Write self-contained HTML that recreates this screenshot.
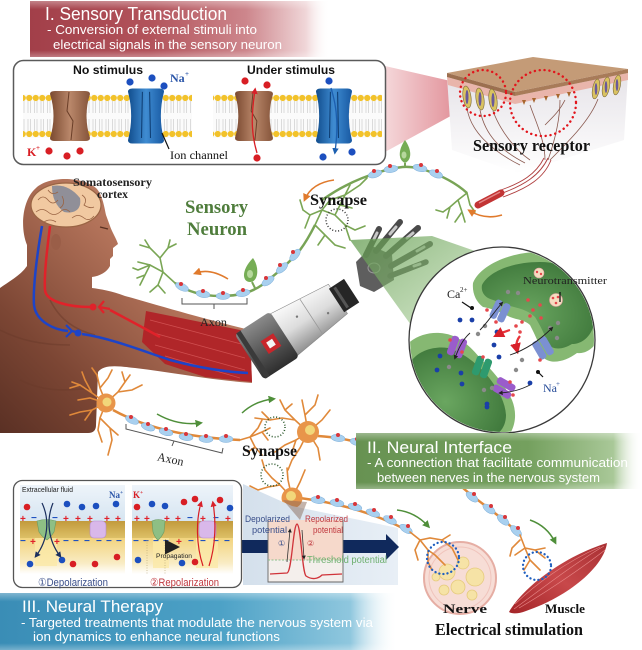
<!DOCTYPE html>
<html><head><meta charset="utf-8"><style>
html,body{margin:0;padding:0;background:#fff;}
svg{display:block;}
</style></head><body>
<svg width="642" height="650" viewBox="0 0 642 650" xmlns="http://www.w3.org/2000/svg">
<defs>
<linearGradient id="gI" x1="0" y1="0" x2="1" y2="0">
<stop offset="0" stop-color="#a23f49"/><stop offset="0.4" stop-color="#b2535b"/><stop offset="0.72" stop-color="#cd868c"/><stop offset="0.92" stop-color="#f0d6d8"/><stop offset="1" stop-color="#ffffff" stop-opacity="0"/>
</linearGradient>
<linearGradient id="gII" x1="0" y1="0" x2="1" y2="0">
<stop offset="0" stop-color="#679252"/><stop offset="0.6" stop-color="#74a05e"/><stop offset="0.9" stop-color="#a9c898"/><stop offset="1" stop-color="#ffffff" stop-opacity="0"/>
</linearGradient>
<linearGradient id="gIII" x1="0" y1="0" x2="1" y2="0">
<stop offset="0" stop-color="#3a8db6"/><stop offset="0.55" stop-color="#4ca1c6"/><stop offset="0.88" stop-color="#8fc7de"/><stop offset="1" stop-color="#ffffff" stop-opacity="0"/>
</linearGradient>
<linearGradient id="vfade" x1="0" y1="0" x2="0" y2="1">
<stop offset="0" stop-color="#fff" stop-opacity="0.35"/><stop offset="0.15" stop-color="#fff" stop-opacity="0"/><stop offset="0.88" stop-color="#fff" stop-opacity="0"/><stop offset="1" stop-color="#fff" stop-opacity="0.3"/>
</linearGradient>
<linearGradient id="cone" x1="0" y1="0" x2="1" y2="0">
<stop offset="0" stop-color="#f3d0d3"/><stop offset="1" stop-color="#dc7c86"/>
</linearGradient>
<linearGradient id="brown" x1="0" y1="0" x2="1" y2="0">
<stop offset="0" stop-color="#7a4930"/><stop offset="0.5" stop-color="#b9876a"/><stop offset="1" stop-color="#85543a"/>
</linearGradient>
<linearGradient id="blue" x1="0" y1="0" x2="1" y2="0">
<stop offset="0" stop-color="#114d8d"/><stop offset="0.5" stop-color="#3f8cd2"/><stop offset="1" stop-color="#1859a2"/>
</linearGradient>
<pattern id="lip" x="0" y="94" width="6.5" height="44" patternUnits="userSpaceOnUse">
<rect width="6.5" height="44" fill="#fbfbfb"/>
<path d="M2 7 V19 M4.5 7 V19 M2 25 V37 M4.5 25 V37" stroke="#c6c6c6" stroke-width="0.6"/>
<circle cx="3.25" cy="4" r="3.1" fill="#f2c22a"/>
<circle cx="3.25" cy="40" r="3.1" fill="#f2c22a"/>
</pattern>
<linearGradient id="skinL" x1="0" y1="0" x2="0" y2="1">
<stop offset="0" stop-color="#e6e3e8"/><stop offset="1" stop-color="#ffffff"/>
</linearGradient>
<linearGradient id="body" x1="1" y1="0" x2="0" y2="1">
<stop offset="0" stop-color="#d39c7e"/><stop offset="0.4" stop-color="#b27259"/><stop offset="0.75" stop-color="#7c4634"/><stop offset="1" stop-color="#5a3024"/>
</linearGradient>
<linearGradient id="silver" x1="0" y1="0" x2="0" y2="1">
<stop offset="0" stop-color="#fafafa"/><stop offset="0.5" stop-color="#dcdcdc"/><stop offset="1" stop-color="#8e8e8e"/>
</linearGradient>
<linearGradient id="cuff" x1="0" y1="0" x2="0" y2="1">
<stop offset="0" stop-color="#8a8a8a"/><stop offset="0.5" stop-color="#5a5a5a"/><stop offset="1" stop-color="#2e2e2e"/>
</linearGradient>
<linearGradient id="gcone" x1="0" y1="0" x2="1" y2="1">
<stop offset="0" stop-color="#5f9a4c" stop-opacity="0.75"/><stop offset="1" stop-color="#a9cf96" stop-opacity="0.5"/>
</linearGradient>
<radialGradient id="blobIn" cx="0.4" cy="0.6" r="0.7">
<stop offset="0" stop-color="#6aa660"/><stop offset="1" stop-color="#3c7539"/>
</radialGradient>
<linearGradient id="bcone" x1="0" y1="0" x2="1" y2="0">
<stop offset="0" stop-color="#d4e0ec"/><stop offset="1" stop-color="#e8eff6"/>
</linearGradient>
<linearGradient id="ecf" x1="0" y1="0" x2="0" y2="1">
<stop offset="0" stop-color="#eef4fa"/><stop offset="1" stop-color="#d6e5f1"/>
</linearGradient>
<linearGradient id="mem" x1="0" y1="0" x2="0" y2="1">
<stop offset="0" stop-color="#c29a3c"/><stop offset="1" stop-color="#ddc067"/>
</linearGradient>
<linearGradient id="icf" x1="0" y1="0" x2="0" y2="1">
<stop offset="0" stop-color="#f2d37e"/><stop offset="0.7" stop-color="#f9ecc4"/><stop offset="1" stop-color="#ffffff"/>
</linearGradient>
<linearGradient id="musc" x1="0" y1="1" x2="1" y2="0">
<stop offset="0" stop-color="#a42528"/><stop offset="0.5" stop-color="#c8484a"/><stop offset="1" stop-color="#a83033"/>
</linearGradient>
<marker id="ao" viewBox="0 0 10 10" refX="6" refY="5" markerWidth="5" markerHeight="5" orient="auto"><path d="M0 0 L10 5 L0 10 z" fill="#e07a2c"/></marker>
<marker id="ag" viewBox="0 0 10 10" refX="6" refY="5" markerWidth="5" markerHeight="5" orient="auto"><path d="M0 0 L10 5 L0 10 z" fill="#4f8f3a"/></marker>
<marker id="ar" viewBox="0 0 10 10" refX="6" refY="5" markerWidth="5" markerHeight="5" orient="auto"><path d="M0 0 L10 5 L0 10 z" fill="#d8202a"/></marker>
<marker id="ab" viewBox="0 0 10 10" refX="6" refY="5" markerWidth="5" markerHeight="5" orient="auto"><path d="M0 0 L10 5 L0 10 z" fill="#1c5fb0"/></marker>
<marker id="an" viewBox="0 0 10 10" refX="6" refY="5" markerWidth="5" markerHeight="5" orient="auto"><path d="M0 0 L10 5 L0 10 z" fill="#1b2f5e"/></marker>
<marker id="ak" viewBox="0 0 10 10" refX="6" refY="5" markerWidth="5" markerHeight="5" orient="auto"><path d="M0 0 L10 5 L0 10 z" fill="#222"/></marker>
<clipPath id="circ"><circle cx="502" cy="340" r="92"/></clipPath>
<g id="ch"><rect x="-8" y="-10" width="7.5" height="20" rx="3"/><rect x="0.5" y="-10" width="7.5" height="20" rx="3"/></g>
<path id="chan" d="M-20 -22 Q-20 -25 -15 -25 L15 -25 Q20 -25 20 -22 Q13 0 20 22 Q20 25 15 25 L-15 25 Q-20 25 -20 22 Q-13 0 -20 -22 Z"/>
</defs>

<rect width="642" height="650" fill="#fff"/>

<!-- Banner I -->
<rect x="30" y="1" width="300" height="56" fill="url(#gI)"/>
<rect x="30" y="1" width="300" height="56" fill="url(#vfade)"/>
<g font-family="Liberation Sans, sans-serif" fill="#fff">
<text x="45" y="20" font-size="18" textLength="182" lengthAdjust="spacingAndGlyphs">I. Sensory Transduction</text>
<text x="47" y="34" font-size="12.5" textLength="210" lengthAdjust="spacingAndGlyphs">- Conversion of external stimuli into</text>
<text x="53" y="49" font-size="12.5" textLength="229" lengthAdjust="spacingAndGlyphs">electrical signals in the sensory neuron</text>
</g>

<!-- red cone -->
<polygon points="385,66 455,82 458,112 385,152" fill="url(#cone)" opacity="0.85"/>

<!-- membrane box -->
<rect x="13.5" y="60.5" width="372" height="104" rx="10" fill="#fff" stroke="#5a5a5a" stroke-width="1.5"/>
<g font-family="Liberation Sans, sans-serif" font-weight="bold" font-size="12" fill="#111">
<text x="73" y="74" textLength="70" lengthAdjust="spacingAndGlyphs">No stimulus</text>
<text x="247" y="74" textLength="88" lengthAdjust="spacingAndGlyphs">Under stimulus</text>
</g>
<rect x="23" y="94" width="169" height="44" fill="url(#lip)"/>
<rect x="213" y="94" width="169" height="44" fill="url(#lip)"/>
<g transform="translate(70,116)"><use href="#chan" fill="url(#brown)"/><path d="M-1 -24 L-3 -5 L3 5 L1 24" stroke="#6a3e28" stroke-width="1" fill="none"/></g>
<g transform="translate(146,116) scale(0.9,1.1)"><use href="#chan" fill="url(#blue)"/><path d="M-4 -22 L-5 20 M4 -22 L5 20" stroke="#0f3f75" stroke-width="1.2" fill="none"/></g>
<g transform="translate(254,116) scale(0.95,1)"><use href="#chan" fill="url(#brown)"/><path d="M-1 -24 L-3 -5 L3 5 L1 24" stroke="#6a3e28" stroke-width="1" fill="none"/></g>
<g transform="translate(334,116) scale(0.9,1.1)"><use href="#chan" fill="url(#blue)"/><path d="M-4 -22 L-5 20 M4 -22 L5 20" stroke="#0f3f75" stroke-width="1.2" fill="none"/></g>
<g fill="#1c4fbf">
<circle cx="130" cy="82" r="3.6"/><circle cx="152" cy="78" r="3.6"/><circle cx="164" cy="86" r="3.6"/>
<circle cx="329" cy="81" r="3.6"/><circle cx="323" cy="157" r="3.6"/><circle cx="352" cy="152" r="3.6"/>
</g>
<g fill="#d81e24">
<circle cx="49" cy="151" r="3.6"/><circle cx="67" cy="156" r="3.6"/><circle cx="80" cy="151" r="3.6"/>
<circle cx="245" cy="81" r="3.6"/><circle cx="267" cy="85" r="3.6"/><circle cx="257" cy="158" r="3.6"/>
</g>
<path d="M257 153 C 250 130, 252 110, 255 90" stroke="#d81e24" stroke-width="1.3" fill="none" marker-end="url(#ar)"/>
<path d="M331 88 C 338 110, 338 130, 335 152" stroke="#1c5fb0" stroke-width="1.3" fill="none" marker-end="url(#ab)"/>
<g font-family="Liberation Serif, serif" font-weight="bold">
<text x="170" y="82" font-size="12" fill="#2a55a8">Na</text><text x="185" y="76" font-size="7" fill="#2a55a8">+</text>
<text x="27" y="156" font-size="12" fill="#d81e24">K</text><text x="36" y="150" font-size="7" fill="#d81e24">+</text>
</g>
<path d="M162 133 L169 149" stroke="#111" stroke-width="1.2"/>
<text x="170" y="159" font-family="Liberation Serif, serif" font-size="12" fill="#111" textLength="58" lengthAdjust="spacingAndGlyphs">Ion channel</text>

<!-- skin block -->
<polygon points="447,77 515,96 515,172 452,150" fill="url(#skinL)"/>
<polygon points="515,96 628,73 624,140 515,174" fill="url(#skinL)"/>
<polygon points="447,77 515,96 515,104 448,85" fill="#e9b5ab"/>
<polygon points="515,96 628,73 628,80 515,104" fill="#e9b5ab"/>
<polygon points="447,73 533,57 628,69 515,92" fill="#c49b77"/>
<polygon points="447,73 515,92 515,96 447,77" fill="#9c6f4f"/>
<polygon points="515,92 628,69 628,73 515,96" fill="#a87b59"/>
<g fill="#a8662e">
<path d="M522 100 l4 0 l-2 5z"/><path d="M532 98 l4 0 l-2 5z"/><path d="M544 96 l4 0 l-2 5z"/><path d="M556 94 l4 0 l-2 5z"/><path d="M567 92 l4 0 l-2 5z"/>
</g>
<g stroke="#7d6a3a" stroke-width="0.6">
<ellipse cx="467" cy="97" rx="4" ry="11" fill="#d9c261" transform="rotate(-8 467 97)"/>
<ellipse cx="480" cy="99" rx="4" ry="11" fill="#d9c261" transform="rotate(-8 480 99)"/>
<ellipse cx="493" cy="100" rx="4" ry="11" fill="#d9c261" transform="rotate(-8 493 100)"/>
<ellipse cx="596" cy="89" rx="3.5" ry="10" fill="#d9c261" transform="rotate(10 596 89)"/>
<ellipse cx="606" cy="87" rx="3.5" ry="10" fill="#d9c261" transform="rotate(10 606 87)"/>
<ellipse cx="617" cy="85" rx="3.5" ry="10" fill="#d9c261" transform="rotate(10 617 85)"/>
</g>
<g fill="#6a5a9a"><ellipse cx="467" cy="97" rx="1.5" ry="7"/><ellipse cx="480" cy="99" rx="1.5" ry="7"/><ellipse cx="493" cy="100" rx="1.5" ry="7"/><ellipse cx="596" cy="89" rx="1.3" ry="6"/><ellipse cx="606" cy="87" rx="1.3" ry="6"/><ellipse cx="617" cy="85" rx="1.3" ry="6"/></g>
<g stroke="#8a5a50" stroke-width="0.8" fill="none">
<path d="M467 108 C470 130 490 150 520 165"/><path d="M480 110 C485 135 500 150 525 163"/><path d="M493 111 C500 130 515 150 530 160"/>
<path d="M530 105 C535 120 545 140 545 160"/><path d="M560 100 C560 120 555 140 548 160"/><path d="M598 99 C590 120 570 140 550 160"/>
<path d="M545 125 C555 115 560 110 565 100"/>
</g>
<g stroke="#b04040" stroke-width="0.9" fill="none">
<path d="M548 158 C540 175 525 185 500 194"/><path d="M544 158 C536 174 522 183 498 191"/><path d="M551 160 C544 178 528 188 503 197"/>
</g>
<line x1="478" y1="205" x2="501" y2="193" stroke="#c23434" stroke-width="7" stroke-linecap="round"/>
<line x1="479" y1="203" x2="500" y2="192" stroke="#e48888" stroke-width="1.5"/>
<g fill="none" stroke="#e2151c" stroke-width="2.4" stroke-linecap="round" stroke-dasharray="0.1 4.8">
<circle cx="483" cy="93" r="23"/><circle cx="543" cy="103" r="33"/>
</g>
<text x="473" y="151" font-family="Liberation Serif, serif" font-weight="bold" font-size="17" fill="#111" textLength="117" lengthAdjust="spacingAndGlyphs">Sensory receptor</text>

<!-- human body -->
<path d="M0 288 C8 282 20 276 27 266 L27 245 C20 228 22 200 36 188 C48 176 82 176 96 188 C102 194 104 205 106 215 L110 226 C112 232 116 238 118 244 L113 248 L113 256 L110 259 L110 266 C107 272 100 276 92 277 L92 288 C100 289 112 291 125 296 C150 303 200 318 250 330 L252 383 C210 380 170 372 135 368 C118 366 104 364 98 372 L96 425 Q96 433 88 433 L0 433 Z" fill="url(#body)"/>
<path d="M0 330 C20 340 40 345 70 345 M20 380 C40 390 60 392 90 388 M50 300 C60 320 75 330 95 335" stroke="#6a3a2a" stroke-width="1.5" fill="none" opacity="0.5"/>
<ellipse cx="56" cy="242" rx="5" ry="8" fill="#9a5e48"/>
<path d="M100 227 L108 229" stroke="#5a3020" stroke-width="1.2"/>
<!-- muscle -->
<polygon points="146,311 250,332 252,382 205,377 165,364 142,342" fill="#b02629"/>
<path d="M150 320 L245 345 M150 332 L245 358 M155 345 L245 370 M165 356 L240 378" stroke="#d85a5a" stroke-width="0.7" opacity="0.8"/>
<!-- brain -->
<ellipse cx="66" cy="205" rx="35" ry="22" fill="#f1c9a1" stroke="#9a6444" stroke-width="1.2"/>
<path d="M52 186 C62 184 72 188 80 198 C82 210 74 214 64 212 C56 206 52 198 52 186 Z" fill="#7f8597" opacity="0.85"/>
<g stroke="#9a6444" stroke-width="0.8" fill="none">
<path d="M38 200 q5 -6 10 0 q5 6 10 0"/><path d="M36 212 q6 -5 12 0 q6 5 12 0 q5 -5 10 0"/><path d="M48 190 q4 6 10 2"/><path d="M82 195 q6 4 2 10 q6 4 10 2"/><path d="M72 218 q6 -5 12 0 q5 4 10 -2"/><path d="M44 222 q6 -4 12 0"/><path d="M62 196 q4 8 -2 12"/>
</g>
<!-- nerve lines -->
<path d="M50 226 C47 250 44 275 45 290 C46 302 70 307 90 307" stroke="#e0222a" stroke-width="2.5" fill="none"/>
<circle cx="93" cy="307" r="3.5" fill="#e0222a"/>
<path d="M104 301 L99 307 L104 313 M99 307 L110 309" stroke="#e0222a" stroke-width="2.2" fill="none"/>
<path d="M110 310 C125 318 140 326 160 337" stroke="#e0222a" stroke-width="2.5" fill="none"/>
<path d="M42 226 C36 260 33 290 34 305 C36 322 55 330 68 331" stroke="#1d44c8" stroke-width="2.5" fill="none"/>
<path d="M66 325 L72 331 L66 337 M72 331 L76 332" stroke="#1d44c8" stroke-width="2.2" fill="none"/>
<circle cx="78" cy="333" r="3.5" fill="#1d44c8"/>
<path d="M82 334 C110 338 140 350 170 360 C200 368 225 372 248 373" stroke="#1d44c8" stroke-width="2.5" fill="none"/>
<g font-family="Liberation Serif, serif" font-weight="bold" font-size="12" fill="#222">
<text x="73" y="186" textLength="79" lengthAdjust="spacingAndGlyphs">Somatosensory</text>
<text x="97" y="198" textLength="31" lengthAdjust="spacingAndGlyphs">cortex</text>
</g>

<!-- green sensory neuron -->
<g stroke="#7aa655" stroke-width="1.6" fill="none" stroke-linecap="round">
<path d="M175 283 L163 272 L150 265 L138 262 M163 272 L160 258 L150 248 L145 240 M160 258 L168 248 L170 240 M150 265 L145 275 L137 278 M150 248 L140 245 M163 272 L158 285 L150 292 M158 285 L165 293 M145 275 L140 285 M150 265 L138 270 L133 268 M168 248 L176 244"/>
<path d="M315 225 L322 210 L330 200 M322 210 L335 215 L345 225 L355 230 M335 215 L340 205 L345 195 M345 225 L350 240 M322 210 L310 215 L303 210 M310 215 L305 228 M330 200 L345 195 L360 185 L367 178 M345 195 L350 185 M315 225 L325 235 L335 245 L345 248 M325 235 L318 245 M355 230 L365 226 M340 205 L352 208 M303 210 L300 200"/>
<path d="M467 193 L458 200 L450 207 L443 212 M458 200 L462 212 L465 222 M450 207 L447 218 M467 193 L470 205 L475 212 M462 212 L455 222 M443 212 L436 210"/>
</g>
<path d="M175 283 C185 290 200 296 220 296 C240 296 252 292 262 285 C275 275 290 262 300 250 C306 242 310 235 315 225" stroke="#78a456" stroke-width="2.5" fill="none"/>
<path d="M467 193 C455 182 440 175 425 170 C410 165 400 167 390 169 C375 173 360 178 345 186 C335 191 328 196 322 200" stroke="#78a456" stroke-width="2.5" fill="none"/>
<g fill="#a9d0ef" stroke="#7fb0da" stroke-width="0.5">
<ellipse cx="182" cy="287" rx="7" ry="3.5" transform="rotate(25 182 287)"/>
<ellipse cx="203" cy="294" rx="7" ry="3.5" transform="rotate(10 203 294)"/>
<ellipse cx="223" cy="296" rx="7" ry="3.5"/>
<ellipse cx="243" cy="293" rx="7" ry="3.5" transform="rotate(-10 243 293)"/>
<ellipse cx="268" cy="281" rx="7" ry="3.5" transform="rotate(-35 268 281)"/>
<ellipse cx="282" cy="268" rx="7" ry="3.5" transform="rotate(-42 282 268)"/>
<ellipse cx="295" cy="255" rx="7" ry="3.5" transform="rotate(-50 295 255)"/>
<ellipse cx="375" cy="174" rx="7" ry="3.5" transform="rotate(-18 375 174)"/>
<ellipse cx="391" cy="169" rx="7" ry="3.5" transform="rotate(-8 391 169)"/>
<ellipse cx="420" cy="168" rx="7" ry="3.5" transform="rotate(12 420 168)"/>
<ellipse cx="436" cy="174" rx="7" ry="3.5" transform="rotate(22 436 174)"/>
</g>
<g fill="#d8363a">
<circle cx="181" cy="284" r="2"/><circle cx="203" cy="291" r="2"/><circle cx="223" cy="293" r="2"/><circle cx="243" cy="290" r="2"/><circle cx="266" cy="278" r="2"/><circle cx="280" cy="265" r="2"/><circle cx="293" cy="252" r="2"/>
<circle cx="374" cy="171" r="2"/><circle cx="390" cy="166" r="2"/><circle cx="421" cy="165" r="2"/><circle cx="437" cy="171" r="2"/>
</g>
<path d="M253 258 C260 268 258 282 250 282 C242 282 241 270 253 258 Z" fill="#76ad55"/>
<ellipse cx="250" cy="274" rx="3" ry="4" fill="#b6d89c"/>
<path d="M252 282 L255 288" stroke="#78a456" stroke-width="2"/>
<path d="M405 140 C412 150 412 160 405 163 C398 160 398 150 405 140 Z" fill="#76ad55"/>
<ellipse cx="404" cy="155" rx="2.5" ry="3.5" fill="#b6d89c"/>
<path d="M405 163 L405 168" stroke="#78a456" stroke-width="2"/>
<g fill="none" stroke="#e07a2c" stroke-width="1.6">
<path d="M228 279 Q210 268 196 273" marker-end="url(#ao)"/>
<path d="M334 180 Q312 183 305 199" marker-end="url(#ao)"/>
<path d="M502 215 Q485 220 470 211" marker-end="url(#ao)"/>
</g>
<circle cx="337" cy="220" r="11" fill="none" stroke="#333" stroke-width="1.5" stroke-dasharray="1 2"/>
<g font-family="Liberation Serif, serif" font-weight="bold">
<text x="310" y="205" font-size="16" fill="#111" textLength="57" lengthAdjust="spacingAndGlyphs">Synapse</text>
<text x="185" y="213" font-size="19" fill="#4f7d3c" textLength="63" lengthAdjust="spacingAndGlyphs">Sensory</text>
<text x="187" y="235" font-size="19" fill="#4f7d3c" textLength="60" lengthAdjust="spacingAndGlyphs">Neuron</text>
</g>
<path d="M182 298 L182 304 L247 304 L247 298 M214 304 L214 309" stroke="#555" stroke-width="1" fill="none"/>
<text x="200" y="326" font-family="Liberation Serif, serif" font-size="12" fill="#222" textLength="27" lengthAdjust="spacingAndGlyphs">Axon</text>

<!-- robot arm -->
<g transform="translate(251,356) rotate(-33)">
<polygon points="38,-25 104,-18 104,17 38,25" fill="url(#silver)" stroke="#888" stroke-width="0.6"/>
<line x1="72" y1="-21" x2="72" y2="21" stroke="#999" stroke-width="0.8"/>
<circle cx="60" cy="-8" r="1.2" fill="#777"/><circle cx="88" cy="6" r="1.2" fill="#777"/>
<rect x="-2" y="-27" width="42" height="54" rx="4" fill="url(#cuff)"/>
<rect x="0" y="-27" width="5" height="54" fill="#3a3a3a"/>
<rect x="16" y="-7" width="15" height="15" fill="#c8262b"/>
<rect x="20" y="-3" width="7" height="7" fill="#f4f4f4"/>
<rect x="102" y="-14" width="18" height="28" fill="#262626"/>
<rect x="106" y="-12" width="3" height="24" fill="#555"/>
</g>
<g stroke-linecap="round">
<polygon points="356,262 372,246 392,255 394,280 374,292 360,286" fill="#5e5e5e"/>
<path d="M366 255 L379 229" stroke="#4a4a4a" stroke-width="6"/>
<path d="M376 251 L400 222" stroke="#4a4a4a" stroke-width="6"/>
<path d="M386 256 L418 228" stroke="#4a4a4a" stroke-width="6"/>
<path d="M391 266 L430 244" stroke="#4a4a4a" stroke-width="6"/>
<path d="M390 276 L426 262" stroke="#4a4a4a" stroke-width="5.5"/>
<g stroke="#c8c8c8" stroke-width="3">
<path d="M374 239 L377 233"/><path d="M390 234 L396 227"/><path d="M407 238 L413 233"/><path d="M417 251 L424 247"/><path d="M414 266 L420 264"/>
</g>
</g>
<ellipse cx="374" cy="268" rx="6" ry="5" fill="none" stroke="#999" stroke-width="1"/>

<!-- green cone -->
<polygon points="350,240 432,236 478,252 416,332" fill="url(#gcone)"/>

<!-- synapse circle -->
<circle cx="502" cy="340" r="93" fill="#fff" stroke="#3a3a3a" stroke-width="1.3"/>
<g clip-path="url(#circ)">
<path d="M473 283 C480 265 510 252 540 252 C575 252 600 270 605 310 C605 340 590 355 577 353 C565 362 550 365 543 357 C540 345 535 335 530 325 C525 320 518 320 510 317 C500 312 490 308 483 307 C476 302 472 293 473 283 Z" fill="#86b872"/>
<path d="M482 285 C490 270 515 262 540 262 C570 262 592 280 596 310 C596 332 585 344 572 344 C562 350 553 350 548 344 C545 335 540 325 535 317 C528 310 518 308 510 306 C500 302 492 300 488 298 C483 295 481 290 482 285 Z" fill="url(#blobIn)"/>
<path d="M400 352 C410 338 425 332 440 333 C455 334 467 342 480 358 C492 370 505 385 512 400 C518 415 515 430 505 440 L395 440 Z" fill="#86b872"/>
<path d="M412 360 C420 350 435 346 448 348 C462 352 475 362 486 374 C496 386 505 400 506 415 C506 428 498 436 488 438 L405 438 Z" fill="url(#blobIn)"/>
</g>
<g>
<use href="#ch" fill="#7b90d2" transform="translate(500,311) rotate(25)"/>
<use href="#ch" fill="#7b90d2" transform="translate(543,348) rotate(-30)"/>
<use href="#ch" fill="#9a5ccb" transform="translate(457,347) rotate(20)"/>
<use href="#ch" fill="#9a5ccb" transform="translate(504,388) rotate(-60)"/>
<use href="#ch" fill="#2e9a6e" transform="translate(482,367) rotate(20)"/>
</g>
<g fill="#1a3fa8">
<circle cx="460" cy="320" r="2.4"/><circle cx="472" cy="320" r="2.4"/><circle cx="494" cy="345" r="2.4"/><circle cx="499" cy="357" r="2.4"/>
<circle cx="440" cy="356" r="2.4"/><circle cx="437" cy="370" r="2.4"/><circle cx="461" cy="373" r="2.4"/><circle cx="462" cy="384" r="2.4"/>
<circle cx="487" cy="407" r="2.4"/><circle cx="530" cy="383" r="2.4"/><circle cx="497" cy="332" r="2.4"/><circle cx="487" cy="404" r="2.4"/>
</g>
<g fill="#8a8a8a">
<circle cx="508" cy="292" r="2.2"/><circle cx="518" cy="293" r="2.2"/><circle cx="485" cy="326" r="2.2"/><circle cx="478" cy="334" r="2.2"/>
<circle cx="522" cy="360" r="2.2"/><circle cx="516" cy="370" r="2.2"/><circle cx="550" cy="328" r="2.2"/><circle cx="558" cy="323" r="2.2"/>
<circle cx="557" cy="338" r="2.2"/><circle cx="449" cy="367" r="2.2"/><circle cx="484" cy="390" r="2.2"/><circle cx="492" cy="388" r="2.2"/>
</g>
<g fill="#e5484d">
<circle cx="528" cy="300" r="1.8"/><circle cx="533" cy="310" r="1.8"/><circle cx="540" cy="305" r="1.8"/><circle cx="530" cy="316" r="1.8"/><circle cx="541" cy="318" r="1.8"/>
<circle cx="516" cy="326" r="1.8"/><circle cx="522" cy="322" r="1.8"/><circle cx="520" cy="332" r="1.8"/>
<circle cx="487" cy="310" r="1.8"/><circle cx="496" cy="322" r="1.8"/><circle cx="450" cy="340" r="1.8"/><circle cx="462" cy="352" r="1.8"/>
<circle cx="510" cy="382" r="1.8"/><circle cx="513" cy="395" r="1.8"/><circle cx="540" cy="360" r="1.8"/><circle cx="483" cy="357" r="1.8"/>
</g>
<circle cx="556" cy="300" r="6.5" fill="#f5dcc0" stroke="#e2a0a0" stroke-width="0.6"/>
<circle cx="539" cy="273" r="5" fill="#f5dcc0" stroke="#e2a0a0" stroke-width="0.6"/>
<g fill="#e5484d"><circle cx="553" cy="298" r="1.3"/><circle cx="558" cy="297" r="1.3"/><circle cx="556" cy="303" r="1.3"/><circle cx="537" cy="272" r="1.2"/><circle cx="541" cy="274" r="1.2"/></g>
<g fill="none" stroke="#e8343a" stroke-width="2.2">
<path d="M510 330 Q503 332 497 335" marker-end="url(#ar)"/>
<path d="M520 336 Q515 342 517 350" marker-end="url(#ar)"/>
</g>
<g fill="none" stroke="#222" stroke-width="0.9">
<path d="M480 330 C488 322 494 312 502 303" marker-end="url(#ak)"/>
<path d="M510 355 C525 350 540 340 552 328" marker-end="url(#ak)"/>
<path d="M470 333 C462 340 458 350 455 358" marker-end="url(#ak)"/>
<path d="M530 385 C520 390 512 392 500 393" marker-end="url(#ak)"/>
</g>
<path d="M560 292 L560 302" stroke="#111" stroke-width="1.3"/>
<path d="M462 302 L471 308" stroke="#111" stroke-width="1.2"/><circle cx="472" cy="308" r="2" fill="#111"/>
<path d="M539 373 L543 377" stroke="#111" stroke-width="1.2"/><circle cx="538" cy="372" r="2" fill="#111"/>
<g font-family="Liberation Serif, serif" font-size="11" fill="#222">
<text x="523" y="284" textLength="84" lengthAdjust="spacingAndGlyphs">Neurotransmitter</text>
<text x="447" y="298" font-size="12">Ca</text><text x="460" y="292" font-size="7">2+</text>
<text x="543" y="392" font-size="12" fill="#2a4f9a">Na</text><text x="556" y="386" font-size="7" fill="#2a4f9a">+</text>
</g>

<!-- lower orange neurons -->
<g stroke="#e0893a" stroke-width="1.6" fill="none" stroke-linecap="round">
<path d="M106 403 L92 393 L80 385 L72 382 M92 393 L85 380 L82 372 M80 385 L70 388 M106 403 L100 388 L97 375 L92 368 M100 388 L108 378 L112 370 M106 403 L118 392 L125 382 L130 375 M118 392 L132 390 L142 385 M125 382 L122 372 M106 403 L92 410 L80 412 L70 415 M92 410 L85 420 M106 403 L100 418 L98 430 L102 442 M100 418 L110 428 L112 440 L108 455 M110 428 L118 435 M106 403 L90 398 L78 400"/>
<path d="M240 440 L250 437 L262 432 L270 428 M250 437 L255 447 L262 455 M262 432 L268 440 M250 437 L258 428 L262 420 M255 447 L248 452"/>
<path d="M308 432 L295 420 L285 410 L280 400 M295 420 L282 418 L270 420 L255 418 M308 432 L305 415 L302 400 M305 415 L315 405 L318 395 M308 432 L322 420 L330 410 M308 432 L296 440 L285 445 L275 452 M296 440 L292 452 M308 432 L318 448 L320 460 M308 432 L300 448 L292 460 L288 470 M285 410 L292 404 M270 420 L262 412"/>
<path d="M292 498 L280 485 L272 478 L265 470 M280 485 L268 487 L258 490 M292 498 L288 480 L287 468 M292 498 L278 505 L262 508 L250 506 M278 505 L270 515 M292 498 L300 482 L305 470 M265 470 L262 460 M258 490 L250 486"/>
</g>
<g stroke="#e0893a" stroke-width="2.5" fill="none">
<path d="M113 410 C140 425 180 437 240 440"/>
<path d="M318 436 C335 437 350 440 375 446"/>
<path d="M300 498 C330 502 370 510 410 532"/>
<path d="M463 488 C480 503 500 515 520 535"/>
</g>
<g fill="#a9d0ef" stroke="#7fb0da" stroke-width="0.5">
<ellipse cx="132" cy="420" rx="7" ry="3.5" transform="rotate(25 132 420)"/>
<ellipse cx="148" cy="427" rx="7" ry="3.5" transform="rotate(20 148 427)"/>
<ellipse cx="166" cy="432" rx="7" ry="3.5" transform="rotate(14 166 432)"/>
<ellipse cx="186" cy="437" rx="7" ry="3.5" transform="rotate(8 186 437)"/>
<ellipse cx="206" cy="439" rx="7" ry="3.5" transform="rotate(3 206 439)"/>
<ellipse cx="226" cy="439" rx="7" ry="3.5"/>
<ellipse cx="338" cy="438" rx="7" ry="3.5" transform="rotate(8 338 438)"/>
<ellipse cx="357" cy="442" rx="7" ry="3.5" transform="rotate(12 357 442)"/>
<ellipse cx="318" cy="500" rx="7" ry="3.5" transform="rotate(6 318 500)"/>
<ellipse cx="337" cy="503" rx="7" ry="3.5" transform="rotate(10 337 503)"/>
<ellipse cx="355" cy="507" rx="7" ry="3.5" transform="rotate(14 355 507)"/>
<ellipse cx="373" cy="513" rx="7" ry="3.5" transform="rotate(20 373 513)"/>
<ellipse cx="390" cy="520" rx="7" ry="3.5" transform="rotate(26 390 520)"/>
<ellipse cx="406" cy="529" rx="7" ry="3.5" transform="rotate(32 406 529)"/>
<ellipse cx="472" cy="497" rx="7" ry="3.5" transform="rotate(38 472 497)"/>
<ellipse cx="489" cy="509" rx="7" ry="3.5" transform="rotate(35 489 509)"/>
<ellipse cx="503" cy="520" rx="7" ry="3.5" transform="rotate(40 503 520)"/>
<ellipse cx="516" cy="531" rx="7" ry="3.5" transform="rotate(45 516 531)"/>
</g>
<g fill="#d8363a">
<circle cx="131" cy="417" r="2"/><circle cx="148" cy="424" r="2"/><circle cx="166" cy="429" r="2"/><circle cx="186" cy="434" r="2"/><circle cx="206" cy="436" r="2"/><circle cx="226" cy="436" r="2"/>
<circle cx="338" cy="435" r="2"/><circle cx="357" cy="439" r="2"/>
<circle cx="318" cy="497" r="2"/><circle cx="337" cy="500" r="2"/><circle cx="355" cy="504" r="2"/><circle cx="374" cy="510" r="2"/><circle cx="391" cy="517" r="2"/><circle cx="408" cy="526" r="2"/>
<circle cx="474" cy="494" r="2"/><circle cx="491" cy="506" r="2"/><circle cx="505" cy="517" r="2"/><circle cx="518" cy="528" r="2"/>
</g>
<g fill="#e8954a"><circle cx="106" cy="403" r="9.5"/><circle cx="308" cy="432" r="11"/><circle cx="292" cy="498" r="10.5"/></g>
<g fill="#f2d77a"><circle cx="107" cy="402" r="4.5"/><circle cx="310" cy="430" r="5"/><circle cx="291" cy="496" r="5"/></g>
<g fill="none" stroke="#2e5a2e" stroke-width="1.6" stroke-dasharray="1 2">
<circle cx="275" cy="427" r="10"/><circle cx="272" cy="475" r="11"/>
</g>
<g fill="none" stroke="#4f8f3a" stroke-width="1.5">
<path d="M157 414 Q178 426 200 423" marker-end="url(#ag)"/>
<path d="M242 413 Q255 401 273 399" marker-end="url(#ag)"/>
<path d="M397 510 Q415 512 428 526" marker-end="url(#ag)"/>
<path d="M530 520 Q547 526 555 542" marker-end="url(#ag)"/>
</g>
<path d="M126 424 L126 429 L222 453 L223 448 M174 441 L172 446" stroke="#555" stroke-width="1" fill="none"/>
<text x="157" y="463" font-family="Liberation Serif, serif" font-size="12" fill="#222" transform="rotate(12 170 460)">Axon</text>
<text x="242" y="456" font-family="Liberation Serif, serif" font-weight="bold" font-size="16" fill="#111" textLength="55" lengthAdjust="spacingAndGlyphs">Synapse</text>

<!-- Banner II -->
<rect x="356" y="433" width="286" height="56" fill="url(#gII)"/>
<rect x="356" y="433" width="286" height="56" fill="url(#vfade)"/>
<g font-family="Liberation Sans, sans-serif" fill="#fff">
<text x="367" y="453" font-size="17" textLength="145" lengthAdjust="spacingAndGlyphs">II. Neural Interface</text>
<text x="367" y="467" font-size="12.5" textLength="261" lengthAdjust="spacingAndGlyphs">- A connection that facilitate communication</text>
<text x="377" y="482" font-size="12.5" textLength="223" lengthAdjust="spacingAndGlyphs">between nerves in the nervous system</text>
</g>

<!-- blue cone + arrow + graph -->
<polygon points="243,484 292,506 398,528 398,585 243,585" fill="url(#bcone)"/>
<path d="M283 500 L307 502 L300 520 Z" fill="#8a6a5a" opacity="0.5"/>
<rect x="240" y="540" width="148" height="13" fill="#10295c"/>
<polygon points="386,534 399,547 386,560" fill="#10295c"/>
<rect x="268" y="520" width="75" height="40" fill="#f6d9cb"/>
<rect x="268" y="560" width="75" height="22" fill="#f4efec"/>
<path d="M268 520 L268 582 L343 582 L343 520" stroke="#666" stroke-width="0.9" fill="none"/>
<line x1="268" y1="560" x2="343" y2="560" stroke="#8cc08c" stroke-width="1" stroke-dasharray="2 1.5"/>
<path d="M270 574 L287 573 C292 572 293 525 297 524 C301 525 302 572 306 576 C312 580 318 579 322 575 L342 574" stroke="#d0343a" stroke-width="1.3" fill="none"/>
<path d="M287 562 L290 530" stroke="#333" stroke-width="0.8" marker-end="url(#ak)"/>
<path d="M302 530 L304 558" stroke="#333" stroke-width="0.8" marker-end="url(#ak)"/>
<g font-family="Liberation Sans, sans-serif" font-size="9">
<text x="245" y="522" fill="#3a4f8a" textLength="45" lengthAdjust="spacingAndGlyphs">Depolarized</text>
<text x="252" y="533" fill="#3a4f8a" textLength="35" lengthAdjust="spacingAndGlyphs">potential</text>
<text x="305" y="522" fill="#c0393f" textLength="43" lengthAdjust="spacingAndGlyphs">Repolarized</text>
<text x="313" y="533" fill="#c0393f" textLength="30" lengthAdjust="spacingAndGlyphs">potential</text>
<text x="278" y="546" fill="#3a4f8a" font-size="8">①</text>
<text x="307" y="546" fill="#c0393f" font-size="8">②</text>
<text x="307" y="563" fill="#6fb070" font-size="10" textLength="80" lengthAdjust="spacingAndGlyphs">Threshold potential</text>
</g>

<!-- ion box -->
<rect x="13.5" y="480.5" width="228" height="107" rx="9" fill="#fff" stroke="#555" stroke-width="1.3"/>
<g>
<rect x="20" y="485" width="105" height="36" fill="url(#ecf)"/>
<rect x="20" y="521" width="105" height="17" fill="url(#mem)"/>
<rect x="20" y="538" width="105" height="36" fill="url(#icf)"/>
<rect x="35" y="538" width="22" height="28" fill="#fbe8a6" opacity="0.8"/>
<rect x="132" y="485" width="101" height="36" fill="url(#ecf)"/>
<rect x="132" y="521" width="101" height="17" fill="url(#mem)"/>
<rect x="132" y="538" width="101" height="36" fill="url(#icf)"/>
<rect x="153" y="538" width="16" height="30" fill="#fbe8a6" opacity="0.8"/>
<rect x="196" y="538" width="22" height="30" fill="#fbe8a6" opacity="0.8"/>
</g>
<g stroke-width="0.6">
<path d="M37 521 Q46 518 56 521 L54 532 Q50 538 47 540 Q43 538 39 532 Z" fill="#8ebf84" stroke="#6a9a60"/>
<path d="M152 521 Q158 518 165 521 L164 532 Q161 538 158 540 Q155 538 153 532 Z" fill="#8ebf84" stroke="#6a9a60"/>
<rect x="90" y="521" width="16" height="17" rx="4" fill="#d9b8ea" stroke="#b58ac8"/>
<rect x="199" y="521" width="17" height="17" rx="4" fill="#d9b8ea" stroke="#b58ac8"/>
</g>
<g fill="#1c4fbf">
<circle cx="67" cy="504" r="3.3"/><circle cx="82" cy="507" r="3.3"/><circle cx="96" cy="506" r="3.3"/><circle cx="116" cy="504" r="3.3"/>
<circle cx="30" cy="564" r="3.3"/><circle cx="62" cy="560" r="3.3"/>
<circle cx="152" cy="504" r="3.3"/><circle cx="165" cy="506" r="3.3"/><circle cx="230" cy="508" r="3.3"/>
<circle cx="138" cy="560" r="3.3"/><circle cx="182" cy="563" r="3.3"/>
</g>
<g fill="#d81e24">
<circle cx="27" cy="507" r="3.3"/><circle cx="73" cy="564" r="3.3"/><circle cx="95" cy="564" r="3.3"/><circle cx="117" cy="557" r="3.3"/>
<circle cx="137" cy="507" r="3.3"/><circle cx="184" cy="502" r="3.3"/><circle cx="195" cy="499" r="3.3"/><circle cx="220" cy="500" r="3.3"/><circle cx="195" cy="562" r="3.3"/>
</g>
<g font-family="Liberation Sans, sans-serif" font-weight="bold" font-size="10">
<g fill="#e0202a">
<text x="20" y="522">+</text><text x="63" y="522">+</text><text x="75" y="522">+</text><text x="87" y="522">+</text><text x="104" y="522">+</text><text x="115" y="522">+</text>
<text x="30" y="545">+</text><text x="54" y="545">+</text>
<text x="134" y="522">+</text><text x="144" y="522">+</text><text x="164" y="522">+</text><text x="175" y="522">+</text><text x="200" y="522">+</text><text x="225" y="522">+</text>
<text x="176" y="545">+</text>
</g>
<g fill="#1c4fbf">
<text x="31" y="521">−</text><text x="52" y="521">−</text>
<text x="20" y="544">−</text><text x="63" y="544">−</text><text x="73" y="544">−</text><text x="84" y="544">−</text><text x="96" y="544">−</text><text x="106" y="544">−</text><text x="116" y="544">−</text>
<text x="187" y="521">−</text><text x="213" y="521">−</text>
<text x="133" y="544">−</text><text x="143" y="544">−</text><text x="153" y="544">−</text><text x="163" y="544">−</text><text x="188" y="544">−</text><text x="200" y="544">−</text><text x="213" y="544">−</text><text x="224" y="544">−</text>
</g>
</g>
<g fill="none" stroke-width="1.2">
<path d="M42 503 C50 520 48 540 36 556" stroke="#1b2f5e" marker-end="url(#an)"/>
<path d="M53 503 C46 520 48 540 60 556" stroke="#1b2f5e" marker-end="url(#an)"/>
<path d="M203 566 C196 545 196 520 201 503" stroke="#d81e24" marker-end="url(#ar)"/>
<path d="M209 566 C216 545 216 520 213 503" stroke="#d81e24" marker-end="url(#ar)"/>
</g>
<path d="M147 540 L147 575 M165 540 L165 575" stroke="#b0a070" stroke-width="0.6" stroke-dasharray="1 1.5"/>
<path d="M165 547 L174 547" stroke="#111" stroke-width="3" marker-end="url(#ak)"/>
<g font-family="Liberation Sans, sans-serif">
<text x="22" y="492" font-size="7" fill="#222" textLength="51" lengthAdjust="spacingAndGlyphs">Extracellular fluid</text>
<text x="156" y="558" font-size="6.5" fill="#222" textLength="36" lengthAdjust="spacingAndGlyphs">Propagation</text>
<text x="38" y="586" font-size="11" fill="#3a4f8a" textLength="70" lengthAdjust="spacingAndGlyphs">①Depolarization</text>
<text x="150" y="586" font-size="11" fill="#c0393f" textLength="69" lengthAdjust="spacingAndGlyphs">②Repolarization</text>
</g>
<g font-family="Liberation Serif, serif" font-weight="bold">
<text x="109" y="498" font-size="9" fill="#2a55a8">Na</text><text x="120" y="494" font-size="5.5" fill="#2a55a8">+</text>
<text x="133" y="498" font-size="9" fill="#d81e24">K</text><text x="140" y="494" font-size="5.5" fill="#d81e24">+</text>
</g>

<!-- nerve & muscle -->
<circle cx="460" cy="578" r="36" fill="#f7ddd6" stroke="#e6aea4" stroke-width="2"/>
<circle cx="460" cy="578" r="31" fill="none" stroke="#f0c4bc" stroke-width="1"/>
<g fill="#f6e3a6" stroke="#e6cb7e" stroke-width="0.8">
<circle cx="447" cy="572" r="8"/><circle cx="463" cy="563" r="6"/><circle cx="475" cy="577" r="9"/><circle cx="458" cy="587" r="7"/><circle cx="444" cy="590" r="5"/><circle cx="472" cy="595" r="5"/><circle cx="436" cy="577" r="4"/>
</g>
<path d="M509 612 C524 586 565 556 607 543 C604 566 570 596 526 611 C518 614 512 614 509 612 Z" fill="url(#musc)"/>
<path d="M514 609 C540 590 575 563 604 546 M519 608 C545 593 582 568 605 550 M515 604 C535 585 565 562 600 547" stroke="#e88888" stroke-width="0.6" fill="none"/>
<g stroke="#e0893a" stroke-width="1.6" fill="none" stroke-linecap="round">
<path d="M410 532 L420 540 L428 550 L435 555 M420 540 L430 538 L442 540 L452 548 M428 550 L428 562 L432 570 M442 540 L450 535 M452 548 L458 560 M420 540 L415 550 L418 560 M435 555 L445 565"/>
<path d="M520 535 L525 548 L530 560 M525 548 L535 550 L545 558 M525 548 L515 555 M530 560 L540 570 M520 540 L512 548 L510 556 M535 550 L545 548 M530 560 L524 570"/>
</g>
<g fill="none" stroke="#1f5fbf" stroke-width="2.3" stroke-linecap="round" stroke-dasharray="0.1 4">
<circle cx="443" cy="558" r="16"/><circle cx="537" cy="566" r="14"/>
</g>
<g font-family="Liberation Serif, serif" font-weight="bold" fill="#111">
<text x="443" y="613" font-size="13" textLength="44" lengthAdjust="spacingAndGlyphs">Nerve</text>
<text x="545" y="613" font-size="13" textLength="40" lengthAdjust="spacingAndGlyphs">Muscle</text>
<text x="435" y="635" font-size="17" textLength="148" lengthAdjust="spacingAndGlyphs">Electrical stimulation</text>
</g>

<!-- Banner III -->
<rect x="0" y="593" width="398" height="57" fill="url(#gIII)"/>
<rect x="0" y="593" width="398" height="57" fill="url(#vfade)"/>
<g font-family="Liberation Sans, sans-serif" fill="#fff">
<text x="22" y="612" font-size="17" textLength="141" lengthAdjust="spacingAndGlyphs">III. Neural Therapy</text>
<text x="21" y="627" font-size="12.5" textLength="352" lengthAdjust="spacingAndGlyphs">- Targeted treatments that modulate the nervous system via</text>
<text x="33" y="641" font-size="12.5" textLength="247" lengthAdjust="spacingAndGlyphs">ion  dynamics to enhance neural functions</text>
</g>
</svg>
</body></html>
